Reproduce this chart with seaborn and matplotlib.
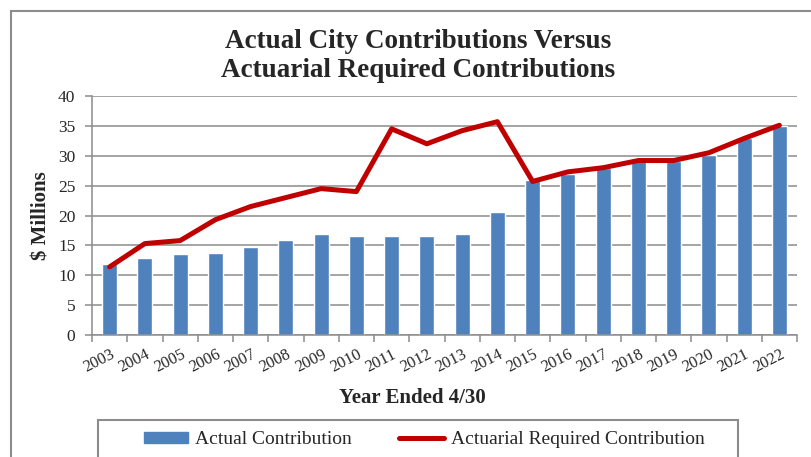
import matplotlib
matplotlib.use("Agg")
import matplotlib.pyplot as plt
import matplotlib.transforms as mtrans
import seaborn as sns
import pandas as pd
import numpy as np
from matplotlib.patches import Patch, Rectangle
from matplotlib.lines import Line2D

years = [str(y) for y in range(2003, 2023)]
actual = [11.9, 12.9, 13.5, 13.8, 14.7, 15.9, 16.9, 16.6, 16.6, 16.6,
          16.9, 20.6, 25.9, 27.0, 27.9, 29.1, 29.1, 30.2, 33.0, 34.9]
required = [11.4, 15.3, 15.8, 19.3, 21.5, 23.0, 24.5, 24.0, 34.5, 32.0,
            34.2, 35.7, 25.7, 27.3, 28.0, 29.2, 29.2, 30.5, 32.9, 35.1]

title = "Actual City Contributions Versus\nActuarial Required Contributions"
xlabel = "Year Ended 4/30"
ylabel = "$ Millions"
bar_name = "Actual Contribution"
line_name = "Actuarial Required Contribution"

df = pd.DataFrame({"year": years, "actual": actual, "required": required})

sns.set_theme(style="white")
plt.rcParams["font.family"] = ["Liberation Serif", "DejaVu Serif"]

W, H = 811, 457
fig = plt.figure(figsize=(W / 100, H / 100), dpi=100)
ax = fig.add_axes([92 / W, 1 - 335 / H, (797 - 92) / W, (335 - 96) / H])

bar_color = "#4F81BD"
line_color = "#C00000"
grid_color = "#8C8C8C"

sns.barplot(data=df, x="year", y="actual", color=bar_color, width=0.43,
            saturation=1, ax=ax, zorder=2)
sns.pointplot(data=df, x="year", y="required", color=line_color, markers="",
              linewidth=3.6, errorbar=None, ax=ax, zorder=3)

ax.set_ylim(0, 40)
ax.set_xlim(-0.5, len(years) - 0.5)
ax.set_yticks(np.arange(0, 41, 5))
ax.yaxis.grid(True, color=grid_color, linewidth=1.1, zorder=0)
ax.set_axisbelow(True)
for s in ["top", "right"]:
    ax.spines[s].set_visible(False)
for s in ["left", "bottom"]:
    ax.spines[s].set_color(grid_color)
    ax.spines[s].set_linewidth(1.1)

ax.tick_params(axis="y", which="both", left=True, length=5, width=1.1,
               color=grid_color, labelsize=12.5, pad=7)
ax.set_xticks(np.arange(len(years)))
ax.set_xticklabels(years, rotation=27, ha="right", rotation_mode="anchor",
                   fontsize=11.8)
ax.tick_params(axis="x", bottom=False, pad=2)
ax.set_xticks(np.arange(-0.5, len(years), 1), minor=True)
ax.tick_params(axis="x", which="minor", bottom=True, length=5, width=1.1,
               color=grid_color)
off = mtrans.ScaledTranslation(0.5 / 100, 0, fig.dpi_scale_trans)
for lbl in ax.get_xticklabels():
    lbl.set_transform(lbl.get_transform() + off)

ax.set_xlabel(xlabel, fontsize=15, fontweight="bold")
ax.set_ylabel(ylabel, fontsize=15, fontweight="bold")
ax.xaxis.set_label_coords((412 - 92) / (797 - 92), -(398 - 335) / (335 - 96))
ax.yaxis.set_label_coords(-(92 - 41) / (797 - 92), 0.5)
ax.xaxis.label.set_va("center")
ax.yaxis.label.set_va("center")

fig.text(418 / W, 1 - 56 / H, title, ha="center", va="center", fontsize=19.5,
         fontweight="bold", linespacing=1.2)

# figure frame
fig.patches.append(Rectangle((11 / W, -0.05), 1.2, 1 - 11 / H + 0.05,
                             transform=fig.transFigure, fill=False,
                             edgecolor=grid_color, linewidth=1.5))
# legend frame
fig.patches.append(Rectangle((98 / W, -0.05), (738 - 98) / W,
                             1 - 420 / H + 0.05,
                             transform=fig.transFigure, fill=False,
                             edgecolor=grid_color, linewidth=1.5))

handles = [Patch(facecolor=bar_color, edgecolor=bar_color),
           Line2D([0], [0], color=line_color, linewidth=3.6,
                  solid_capstyle="round")]
leg = fig.legend(handles, [bar_name, line_name], ncol=2,
                 loc="center", bbox_to_anchor=(424 / W, 1 - 440 / H),
                 fontsize=14, frameon=False,
                 handlelength=2.3, handleheight=0.52, handletextpad=0.36,
                 columnspacing=2.4, borderpad=0, borderaxespad=0)

fig.savefig("out.png", dpi=100)
